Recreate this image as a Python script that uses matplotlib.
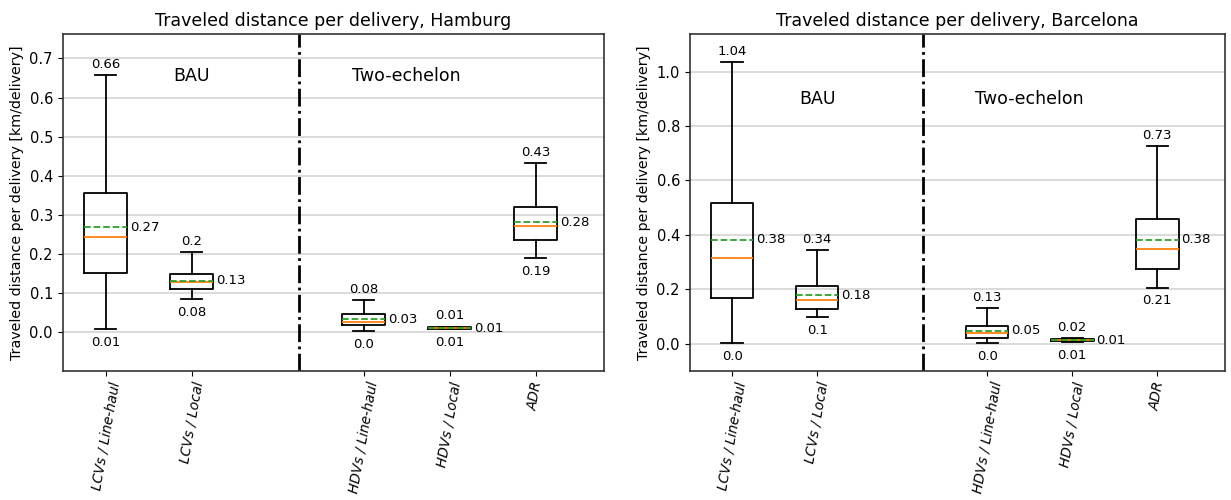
import numpy as np
import matplotlib.pyplot as plt

# Box statistics (km/delivery)
labels = ["LCVs / Line-haul", "LCVs / Local", "HDVs / Line-haul", "HDVs / Local", "ADR"]
positions = [1, 2, 4, 5, 6]

hh_whislo = [0.006, 0.083, 0.002, 0.006, 0.188]
hh_q1 = [0.150, 0.109, 0.017, 0.007, 0.235]
hh_med = [0.242, 0.127, 0.026, 0.009, 0.271]
hh_mean = [0.268, 0.130, 0.032, 0.009, 0.280]
hh_q3 = [0.355, 0.147, 0.045, 0.012, 0.320]
hh_whishi = [0.657, 0.203, 0.081, 0.013, 0.431]

bc_whislo = [0.003, 0.096, 0.002, 0.006, 0.206]
bc_q1 = [0.169, 0.126, 0.022, 0.008, 0.273]
bc_med = [0.313, 0.160, 0.038, 0.012, 0.347]
bc_mean = [0.381, 0.178, 0.047, 0.012, 0.381]
bc_q3 = [0.516, 0.213, 0.065, 0.016, 0.457]
bc_whishi = [1.037, 0.344, 0.130, 0.020, 0.727]


def make_stats(whislo, q1, med, mean, q3, whishi):
    stats = []
    for i in range(len(labels)):
        stats.append({"label": labels[i], "whislo": whislo[i], "q1": q1[i], "med": med[i],
                      "mean": mean[i], "q3": q3[i], "whishi": whishi[i], "fliers": []})
    return stats


def draw(ax, stats, title, ylim, yticks, text_y):
    lw = 1.3
    ax.bxp(stats, positions=positions, showmeans=True, meanline=True, widths=0.5,
           showfliers=False,
           boxprops=dict(linewidth=lw), whiskerprops=dict(linewidth=lw),
           capprops=dict(linewidth=lw), medianprops=dict(linewidth=lw, color="C1"),
           meanprops=dict(linewidth=lw, linestyle="--", color="C2"))
    for p, s in zip(positions, stats):
        ax.annotate(str(round(s["whishi"], 2)), (p, s["whishi"]), xytext=(0, 3),
                    textcoords="offset points", ha="center", va="bottom", fontsize=9.5)
        ax.annotate(str(round(s["whislo"], 2)), (p, s["whislo"]), xytext=(0, -5),
                    textcoords="offset points", ha="center", va="top", fontsize=9.5)
        ax.annotate(str(round(s["mean"], 2)), (p + 0.25, s["mean"]), xytext=(2, 0),
                    textcoords="offset points", ha="left", va="center", fontsize=9.5)
    ax.axvline(3.25, color="black", linestyle="-.", linewidth=2)
    ax.text(2, text_y, "BAU", ha="center", va="center", fontsize=12.5)
    ax.text(4.5, text_y, "Two-echelon", ha="center", va="center", fontsize=12.5)
    ax.set_xlim(0.5, 6.8)
    ax.set_ylim(ylim)
    ax.set_yticks(yticks)
    ax.yaxis.grid(True, color="#d4d4d4", linewidth=1.2)
    ax.set_axisbelow(True)
    ax.set_xticks(positions)
    ax.set_xticklabels(labels, rotation=80, fontstyle="italic", fontsize=9.8)
    ax.tick_params(axis="y", labelsize=10.5)
    for sp in ax.spines.values():
        sp.set_linewidth(1.2)
        sp.set_color("#333333")
    ax.set_ylabel("Traveled distance per delivery [km/delivery]", fontsize=10.3)
    ax.set_title(title, fontsize=12.5)


fig = plt.figure(figsize=(12.31, 5), dpi=100)
ax1 = fig.add_axes([0.0509, 0.2586, 0.44, 0.6728])
ax2 = fig.add_axes([0.5602, 0.2586, 0.4352, 0.6728])

draw(ax1, make_stats(hh_whislo, hh_q1, hh_med, hh_mean, hh_q3, hh_whishi),
     "Traveled distance per delivery, Hamburg", (-0.1, 0.762),
     np.round(np.arange(0, 0.71, 0.1), 1), 0.656)
draw(ax2, make_stats(bc_whislo, bc_q1, bc_med, bc_mean, bc_q3, bc_whishi),
     "Traveled distance per delivery, Barcelona", (-0.1, 1.138),
     np.round(np.arange(0, 1.01, 0.2), 1), 0.9)

fig.savefig("out.png", dpi=100)
